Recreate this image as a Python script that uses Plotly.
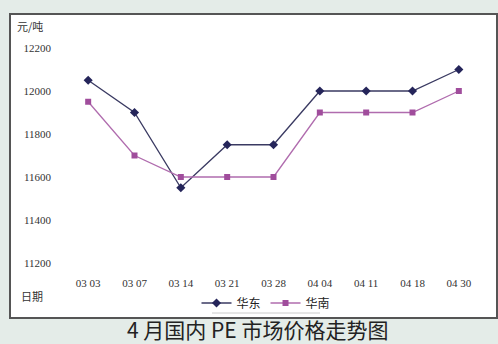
import plotly.graph_objects as go

# Weekly PE prices, yuan per tonne
dates = ["03 03", "03 07", "03 14", "03 21", "03 28", "04 04", "04 11", "04 18", "04 30"]
east_china = [12050, 11900, 11550, 11750, 11750, 12000, 12000, 12000, 12100]
south_china = [11950, 11700, 11600, 11600, 11600, 11900, 11900, 11900, 12000]
y_ticks = [11200, 11400, 11600, 11800, 12000, 12200]
y_tick_text = ["11200", "11400", "11600", "11800", "12000", "12200"]

W, H = 498, 344
L, R, T, B = 65, 16, 48, 81
pw, ph = W - L - R, H - T - B


def px(x):
    return (x - L) / pw


def py(y):
    return (H - B - y) / ph


serif = "Liberation Serif, Times New Roman, serif"
cjk = "Noto Sans CJK SC, sans-serif"

fig = go.Figure()
fig.add_trace(go.Scatter(
    x=dates, y=east_china, name="华东", mode="lines+markers",
    line=dict(color="#3a3a62", width=1.3),
    marker=dict(symbol="diamond", size=7, color="#25255a"),
))
fig.add_trace(go.Scatter(
    x=dates, y=south_china, name="华南", mode="lines+markers",
    line=dict(color="#b06cae", width=1.3),
    marker=dict(symbol="square", size=6, color="#a04d9c"),
))

fig.update_layout(
    width=W, height=H,
    margin=dict(l=L, r=R, t=T, b=B),
    paper_bgcolor="#e4ece8",
    plot_bgcolor="rgba(0,0,0,0)",
    showlegend=True,
    legend=dict(
        orientation="h", x=px(266), xanchor="center", y=py(303), yanchor="middle",
        font=dict(family=cjk, size=12, color="#222"),
        bgcolor="rgba(0,0,0,0)", itemwidth=30, tracegroupgap=0,
    ),
    xaxis=dict(
        type="category", range=[-0.5, 8.5], showgrid=False, zeroline=False,
        showline=False, ticks="", ticklabelstandoff=12,
        tickfont=dict(family=serif, size=11, color="#333"),
    ),
    yaxis=dict(
        range=[11200, 12200], tickvals=y_ticks, ticktext=y_tick_text,
        showgrid=False, zeroline=False, showline=False, ticks="",
        ticklabelstandoff=13,
        tickfont=dict(family=serif, size=11, color="#333"),
    ),
    shapes=[
        # white chart panel with dark frame
        dict(type="rect", xref="paper", yref="paper", layer="below",
             x0=px(10), x1=px(497), y0=py(318), y1=py(14),
             fillcolor="#ffffff", line=dict(color="#555555", width=2)),
        # line under legend
        dict(type="line", xref="paper", yref="paper",
             x0=px(212), x1=px(320), y0=py(313), y1=py(313),
             line=dict(color="#cccccc", width=1)),
    ],
    annotations=[
        dict(text="元/吨", xref="paper", yref="paper", x=px(15), y=py(26),
             xanchor="left", yanchor="middle", showarrow=False,
             font=dict(family=cjk, size=11, color="#333")),
        dict(text="日期", xref="paper", yref="paper", x=px(19), y=py(296),
             xanchor="left", yanchor="middle", showarrow=False,
             font=dict(family=cjk, size=11, color="#333")),
        dict(text="4 月国内 PE 市场价格走势图", xref="paper", yref="paper",
             x=px(257), y=py(329), xanchor="center", yanchor="middle",
             showarrow=False,
             font=dict(family=cjk, size=21, color="#222")),
    ],
)

fig.write_html("out.html")
